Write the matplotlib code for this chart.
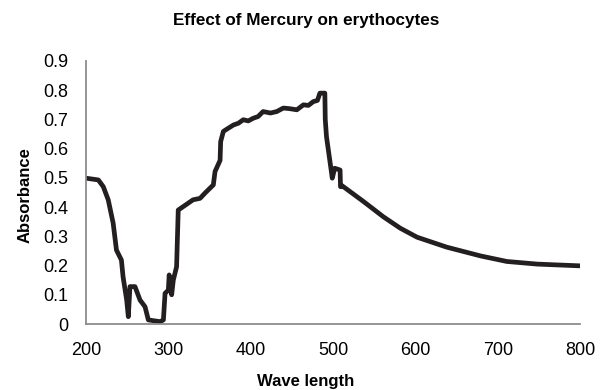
import matplotlib
matplotlib.use('Agg')
from matplotlib import pyplot as plt

# Absorbance spectrum
wavelength = [200, 215, 221, 227, 233, 237, 243, 245, 249.4, 251.4, 253.4, 259.5,
              265.6, 271.7, 275.7, 290, 294, 296, 300, 301, 304, 306, 310, 312,
              330, 338.5, 344.5, 354.6, 356.7, 358, 362.8, 363.5, 366.8, 370, 379,
              385, 391, 397, 403, 409, 415, 424, 431.6, 439.6, 447, 456, 464, 470,
              476, 481, 484, 490, 490.5, 492, 498, 499, 502, 508.5, 509, 511, 537,
              561, 581.5, 602, 638, 679, 711, 748, 800]
absorbance = [0.499, 0.493, 0.47, 0.425, 0.345, 0.253, 0.219, 0.162, 0.082, 0.025,
              0.128, 0.128, 0.082, 0.059, 0.014, 0.008, 0.014, 0.105, 0.116, 0.168,
              0.10, 0.15, 0.196, 0.39, 0.425, 0.43, 0.448, 0.476, 0.522, 0.53, 0.56,
              0.624, 0.659, 0.665, 0.681, 0.687, 0.699, 0.695, 0.704, 0.71, 0.727,
              0.722, 0.727, 0.739, 0.737, 0.733, 0.75, 0.748, 0.761, 0.765, 0.79,
              0.79, 0.70, 0.641, 0.52, 0.499, 0.533, 0.527, 0.47, 0.473, 0.419,
              0.367, 0.328, 0.297, 0.263, 0.233, 0.214, 0.205, 0.199]

x_ticks = [200, 300, 400, 500, 600, 700, 800]
y_ticks = [0, 0.1, 0.2, 0.3, 0.4, 0.5, 0.6, 0.7, 0.8, 0.9]

plt.rcParams['font.family'] = ['Liberation Sans', 'DejaVu Sans']

fig = plt.figure(figsize=(6.12, 3.9), dpi=100)
ax = fig.add_axes([0.1405, 0.1692, 0.8075, 0.6744])

ax.plot(wavelength, absorbance, color='#231f20', linewidth=3.4,
        solid_joinstyle='round', solid_capstyle='round')

ax.set_xlim(200, 800)
ax.set_ylim(0, 0.9)
ax.set_xticks(x_ticks)
ax.set_yticks(y_ticks)
ax.set_yticklabels(['0' if v == 0 else '{:.1f}'.format(v) for v in y_ticks])
ax.tick_params(length=0, labelsize=13, pad=13, colors='black')

for side in ['top', 'right']:
    ax.spines[side].set_visible(False)
for side in ['left', 'bottom']:
    ax.spines[side].set_color('#8c8c8c')
    ax.spines[side].set_linewidth(1.3)

fig.text(0.5, 0.948, 'Effect of Mercury on erythocytes', ha='center', va='center',
         fontsize=12.3, fontweight='bold')
fig.text(0.5, 0.023, 'Wave length', ha='center', va='center',
         fontsize=12, fontweight='bold')
fig.text(0.041, 0.5, 'Absorbance', ha='center', va='center', rotation=90,
         fontsize=12, fontweight='bold')

fig.savefig('out.png', dpi=100)
